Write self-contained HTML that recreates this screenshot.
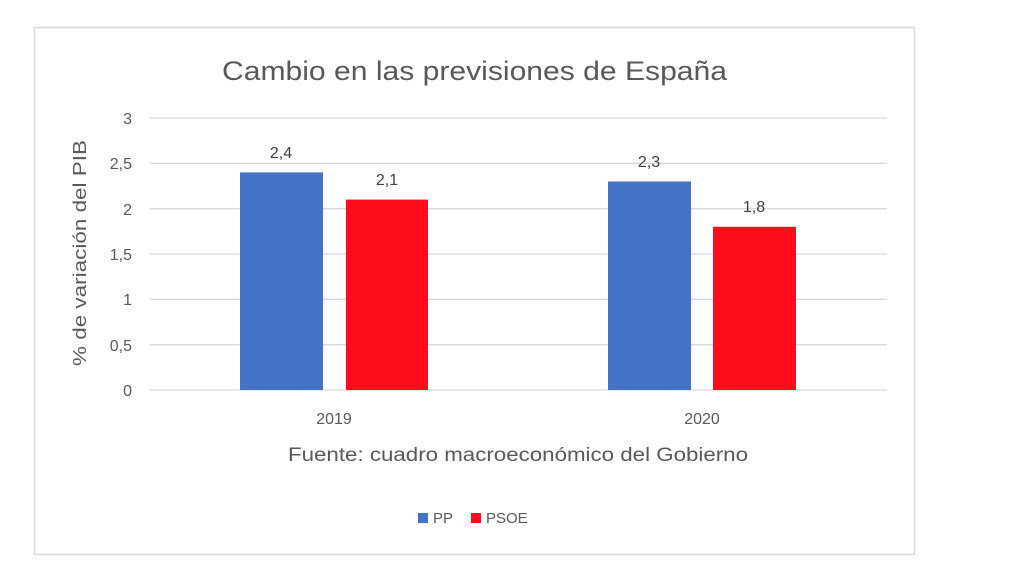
<!DOCTYPE html>
<html><head><meta charset="utf-8"><style>body{margin:0;background:#fff}svg{display:block}</style></head>
<body>
<svg width="1024" height="580" xmlns="http://www.w3.org/2000/svg" font-family="Liberation Sans, sans-serif">
<rect x="34.5" y="27.5" width="880" height="527" fill="#fff" stroke="#d9d9d9" stroke-width="1.5"/>
<text x="222" y="80" font-size="27" fill="#595959" textLength="505" lengthAdjust="spacingAndGlyphs">Cambio en las previsiones de España</text>
<g stroke="#d9d9d9" stroke-width="1.3">
<line x1="150" x2="887" y1="118" y2="118"/><line x1="150" x2="887" y1="163.3" y2="163.3"/>
<line x1="150" x2="887" y1="208.7" y2="208.7"/><line x1="150" x2="887" y1="254" y2="254"/>
<line x1="150" x2="887" y1="299.3" y2="299.3"/><line x1="150" x2="887" y1="344.7" y2="344.7"/>
<line x1="150" x2="887" y1="390" y2="390"/></g>
<g font-size="16" fill="#595959" text-anchor="end">
<text x="132" y="124">3</text><text x="132" y="169">2,5</text><text x="132" y="215">2</text>
<text x="132" y="260">1,5</text><text x="132" y="305">1</text><text x="132" y="351">0,5</text><text x="132" y="396">0</text></g>
<text transform="translate(86,253) rotate(-90)" x="-113" font-size="18" fill="#595959" textLength="226" lengthAdjust="spacingAndGlyphs">% de variación del PIB</text>
<rect x="240" y="172.4" width="83" height="217.6" fill="#4472c4"/>
<rect x="346" y="199.6" width="82" height="190.4" fill="#ff0d1d"/>
<rect x="608" y="181.5" width="83" height="208.5" fill="#4472c4"/>
<rect x="713" y="226.8" width="83" height="163.2" fill="#ff0d1d"/>
<g font-size="16" fill="#404040" text-anchor="middle">
<text x="281" y="158">2,4</text><text x="387" y="185">2,1</text>
<text x="649" y="167">2,3</text><text x="754" y="212">1,8</text></g>
<g font-size="16" fill="#595959" text-anchor="middle">
<text x="334" y="424">2019</text><text x="702" y="424">2020</text></g>
<text x="288" y="461" font-size="19" fill="#595959" textLength="460" lengthAdjust="spacingAndGlyphs">Fuente: cuadro macroeconómico del Gobierno</text>
<rect x="418" y="513" width="10" height="10" fill="#4472c4"/>
<text x="433" y="523" font-size="15" fill="#595959">PP</text>
<rect x="471" y="513" width="10" height="10" fill="#ff0d1d"/>
<text x="486" y="523" font-size="15" fill="#595959">PSOE</text>
</svg>
</body></html>
